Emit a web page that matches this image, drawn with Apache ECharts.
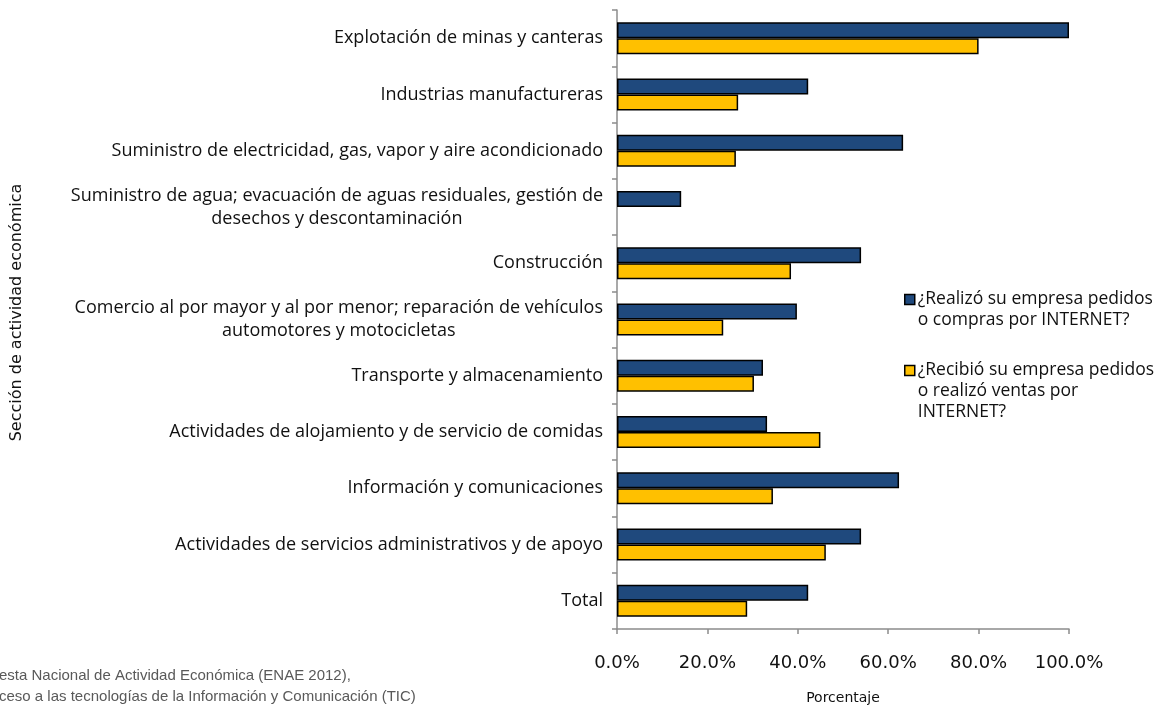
<!DOCTYPE html>
<html>
<head>
<meta charset="utf-8">
<script src="https://cdn.jsdelivr.net/npm/echarts@6/dist/echarts.min.js"></script>
<style>
  html, body { margin: 0; padding: 0; background: #fff; }
  #chart { width: 1167px; height: 709px; }
</style>
</head>
<body>
<div id="chart"></div>
<script>
// categorías (de arriba hacia abajo)
const sectores = [
    "Explotación de minas y canteras",
    "Industrias manufactureras",
    "Suministro de electricidad, gas, vapor y aire acondicionado",
    "Suministro de agua; evacuación de aguas residuales, gestión de\ndesechos y descontaminación",
    "Construcción",
    "Comercio al por mayor y al por menor; reparación de vehículos\nautomotores y motocicletas",
    "Transporte y almacenamiento",
    "Actividades de alojamiento y de servicio de comidas",
    "Información y comunicaciones",
    "Actividades de servicios administrativos y de apoyo",
    "Total"
];

const nombreCompras = "¿Realizó su empresa pedidos o compras por INTERNET?";
const nombreVentas = "¿Recibió su empresa pedidos o realizó ventas por INTERNET?";

// porcentajes
const compras = [100.0, 42.3, 63.3, 14.2, 54.0, 39.8, 32.3, 33.2, 62.4, 54.0, 42.3];
const ventas = [80.0, 26.8, 26.3, null, 38.5, 23.5, 30.3, 45.0, 34.5, 46.2, 28.8];

const ticksX = [0, 20, 40, 60, 80, 100];

// texto de leyenda partido en líneas (la línea vacía arriba centra el icono en la primera)
const textoLeyenda = {};
textoLeyenda[nombreCompras] = "\n¿Realizó su empresa pedidos\no compras por INTERNET?";
textoLeyenda[nombreVentas] = "\n\n¿Recibió su empresa pedidos\no realizó ventas por\nINTERNET?";

const fuenteTexto = "'Open Sans', 'Liberation Sans', Arial, sans-serif";
const fuenteEjes = "'DejaVu Sans', sans-serif";

const chart = echarts.init(document.getElementById('chart'));

function leyenda(nombre, top) {
    return {
        data: [nombre],
        orient: 'vertical',
        left: 904,
        top: top,
        itemWidth: 10,
        itemHeight: 10,
        itemGap: 0,
        icon: 'rect',
        selectedMode: false,
        padding: 0,
        formatter: n => textoLeyenda[n],
        itemStyle: { borderColor: '#000', borderWidth: 1.5 },
        textStyle: {
            fontFamily: fuenteTexto, fontSize: 17.5, color: '#111',
            lineHeight: 21, padding: [0, 0, 0, -2]
        }
    };
}

const option = {
    animation: false,
    backgroundColor: '#fff',
    textStyle: { fontFamily: fuenteTexto },
    grid: { left: 617, right: 98, top: 10, bottom: 80, containLabel: false, outerBoundsMode: 'none' },
    legend: [leyenda(nombreCompras, 268), leyenda(nombreVentas, 318)],
    xAxis: {
        type: 'value',
        min: 0,
        max: 100,
        interval: 20,
        name: 'Porcentaje',
        nameLocation: 'middle',
        nameGap: 62,
        nameTextStyle: { fontFamily: fuenteEjes, fontSize: 14, color: '#111' },
        axisLine: { show: true, lineStyle: { color: '#8c8c8c', width: 1.5 } },
        axisTick: { show: true, length: 5, lineStyle: { color: '#8c8c8c', width: 1.5 } },
        splitLine: { show: false },
        axisLabel: {
            margin: 25,
            fontFamily: fuenteEjes,
            fontSize: 18,
            color: '#111',
            formatter: v => ticksX.includes(v) ? v.toFixed(1) + '%' : ''
        }
    },
    yAxis: {
        type: 'category',
        data: sectores,
        inverse: true,
        name: 'Sección de actividad económica',
        nameLocation: 'middle',
        nameRotate: 90,
        nameGap: 592,
        nameTextStyle: { fontFamily: fuenteEjes, fontSize: 16, color: '#111', padding: [0, 0, 0, 14] },
        axisLine: { show: true, lineStyle: { color: '#8c8c8c', width: 1.5 } },
        axisTick: { show: true, length: 5, lineStyle: { color: '#8c8c8c', width: 1.5 } },
        axisLabel: {
            margin: 14,
            fontSize: 18,
            color: '#111',
            formatter: v => v.split('\n').map(l => '{c|' + l + '}').join('\n'),
            rich: {
                c: { align: 'center', fontFamily: fuenteTexto, fontSize: 18, lineHeight: 23, color: '#111' }
            }
        }
    },
    series: [
        {
            name: nombreCompras,
            type: 'bar',
            data: compras,
            barWidth: 16,
            barGap: '0%',
            itemStyle: { color: '#1f497d', borderColor: '#000', borderWidth: 1.5 }
        },
        {
            name: nombreVentas,
            type: 'bar',
            data: ventas,
            barWidth: 16,
            barGap: '0%',
            itemStyle: { color: '#ffc000', borderColor: '#000', borderWidth: 1.5 }
        }
    ],
    graphic: [
        {
            type: 'text', left: -1, top: 665,
            style: {
                text: 'esta Nacional de Actividad Económica (ENAE 2012),\nceso a las tecnologías de la Información y Comunicación (TIC)',
                font: "15px 'Liberation Sans', Arial, sans-serif",
                lineHeight: 21,
                fill: '#595959'
            }
        }
    ]
};

chart.setOption(option);
</script>
</body>
</html>
